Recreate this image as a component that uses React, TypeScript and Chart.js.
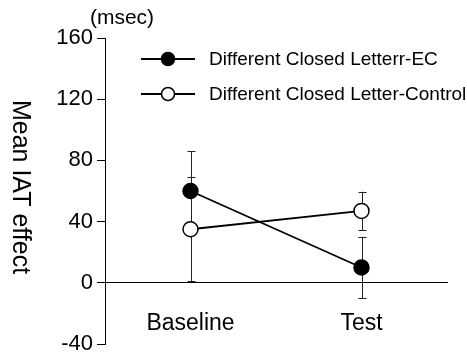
import React, { useEffect, useRef } from "react";
import { Chart, registerables } from "chart.js";

Chart.register(...registerables);

const categories = ["Baseline", "Test"];
const seriesLabels = ["Different Closed Letterr-EC", "Different Closed Letter-Control"];
const ecMeans = [60, 10];
const ecErrors = [26, 20];
const controlMeans = [35, 47];
const controlErrors = [34, 12.5];
const yTicks = [-40, 0, 40, 80, 120, 160];

const FONT = "'Liberation Sans', Arial, sans-serif";

const errorBarPlugin = {
  id: "errorBars",
  beforeDatasetsDraw(chart: any) {
    const ctx = chart.ctx;
    const xs = chart.scales.x;
    const ys = chart.scales.y;
    const sets = [
      { m: ecMeans, e: ecErrors },
      { m: controlMeans, e: controlErrors },
    ];
    ctx.save();
    ctx.strokeStyle = "#222";
    ctx.lineWidth = 1;
    sets.forEach((s) => {
      s.m.forEach((v, i) => {
        const x = Math.round(xs.getPixelForValue(i)) + 0.5;
        const yt = ys.getPixelForValue(v + s.e[i]);
        const yb = ys.getPixelForValue(v - s.e[i]);
        ctx.beginPath();
        ctx.moveTo(x, yt);
        ctx.lineTo(x, yb);
        ctx.moveTo(x - 4, Math.round(yt) + 0.5);
        ctx.lineTo(x + 4, Math.round(yt) + 0.5);
        ctx.moveTo(x - 4, Math.round(yb) + 0.5);
        ctx.lineTo(x + 4, Math.round(yb) + 0.5);
        ctx.stroke();
      });
    });
    ctx.restore();
  },
};

const decorPlugin = {
  id: "decor",
  afterDraw(chart: any) {
    const ctx = chart.ctx;
    const area = chart.chartArea;
    ctx.save();
    // unit label
    ctx.fillStyle = "#000";
    ctx.font = `21px ${FONT}`;
    ctx.textAlign = "center";
    ctx.textBaseline = "middle";
    ctx.fillText("(msec)", area.left + 17, 18);
    // y title, rotated clockwise
    ctx.save();
    ctx.translate(20, 187);
    ctx.rotate(Math.PI / 2);
    ctx.font = `25px ${FONT}`;
    ctx.fillText("Mean IAT effect", 0, 0);
    ctx.restore();
    // legend
    const fills = ["#000", "#fff"];
    seriesLabels.forEach((lab, i) => {
      const y = area.top + 21 + i * 35;
      const x0 = area.left + 36;
      ctx.beginPath();
      ctx.strokeStyle = "#000";
      ctx.lineWidth = 1.8;
      ctx.moveTo(x0, y);
      ctx.lineTo(x0 + 54, y);
      ctx.stroke();
      ctx.beginPath();
      ctx.arc(x0 + 27, y, 6.5, 0, Math.PI * 2);
      ctx.fillStyle = fills[i];
      ctx.fill();
      ctx.lineWidth = 1.5;
      ctx.stroke();
      ctx.fillStyle = "#000";
      ctx.font = `19px ${FONT}`;
      ctx.textAlign = "left";
      ctx.fillText(lab, x0 + 68, y + 1);
    });
    ctx.restore();
  },
};

export default function App() {
  const ref = useRef<HTMLCanvasElement>(null);
  useEffect(() => {
    if (!ref.current) return;
    const chart = new Chart(ref.current, {
      type: "line",
      data: {
        labels: categories,
        datasets: [
          {
            label: seriesLabels[0],
            data: ecMeans,
            borderColor: "#000",
            borderWidth: 1.8,
            pointRadius: 7.5,
            pointBorderWidth: 1.5,
            pointBackgroundColor: "#000",
            pointBorderColor: "#000",
            tension: 0,
          },
          {
            label: seriesLabels[1],
            data: controlMeans,
            borderColor: "#000",
            borderWidth: 1.8,
            pointRadius: 7.5,
            pointBorderWidth: 1.5,
            pointBackgroundColor: "#fff",
            pointBorderColor: "#000",
            tension: 0,
          },
        ],
      },
      options: {
        animation: false,
        responsive: true,
        maintainAspectRatio: false,
        layout: { padding: { left: 0, top: 38, right: 20, bottom: 13 } },
        plugins: { legend: { display: false }, tooltip: { enabled: false } },
        scales: {
          x: {
            type: "category",
            offset: true,
            position: { y: 0 } as any,
            grid: { display: false, drawTicks: false },
            border: { display: true, color: "#000", width: 1 },
            ticks: {
              color: "#000",
              padding: 27,
              font: { family: FONT, size: 23 },
            },
          },
          y: {
            min: -40,
            max: 160,
            afterFit: (scale: any) => {
              scale.width = 105;
              scale.paddingTop = 0;
              scale.paddingBottom = 0;
            },
            afterBuildTicks: (scale: any) => {
              scale.ticks = yTicks.map((v) => ({ value: v }));
            },
            grid: {
              drawOnChartArea: false,
              drawTicks: true,
              tickLength: 8,
              tickColor: "#000",
            },
            border: { display: true, color: "#000", width: 1 },
            ticks: {
              color: "#000",
              padding: 4,
              font: { family: FONT, size: 22, lineHeight: 1 },
            },
          },
        },
      },
      plugins: [errorBarPlugin, decorPlugin],
    });
    return () => chart.destroy();
  }, []);
  return (
    <div style={{ position: "fixed", left: 0, top: 0, width: 467, height: 357, background: "#fff" }}>
      <canvas ref={ref} />
    </div>
  );
}
